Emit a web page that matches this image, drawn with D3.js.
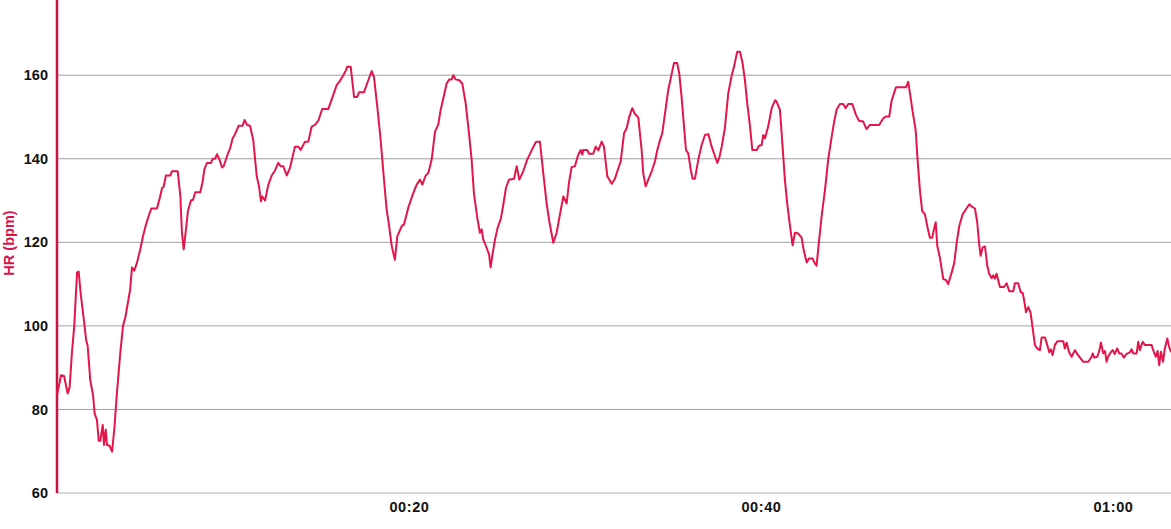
<!DOCTYPE html>
<html>
<head>
<meta charset="utf-8">
<script src="https://cdn.jsdelivr.net/npm/d3@7/dist/d3.min.js"></script>
<style>
  html, body { margin: 0; padding: 0; background: #ffffff; }
  svg { display: block; }
</style>
</head>
<body>
<svg id="chart" width="1171" height="529"></svg>
<script>
// Elapsed time in minutes
const timeMin = [
0.00,0.23,0.40,0.61,0.72,0.85,0.98,1.14,1.23,1.36,1.52,1.66,1.74,1.89,2.05,2.14,2.27,2.37,2.46,2.60,
2.67,2.77,2.84,2.99,3.13,3.26,3.41,3.60,3.75,3.88,4.03,4.16,4.26,4.39,4.55,4.73,4.89,5.06,5.21,5.36,
5.68,5.84,5.97,6.06,6.19,6.44,6.53,6.86,7.01,7.10,7.20,7.35,7.44,7.61,7.73,7.86,8.14,8.28,8.37,8.52,
8.75,8.85,8.99,9.09,9.22,9.38,9.47,9.66,9.85,9.98,10.13,10.32,10.55,10.66,10.80,10.97,11.15,11.35,11.48,11.59,
11.66,11.82,12.01,12.20,12.39,12.57,12.71,12.86,13.05,13.24,13.52,13.71,13.85,14.09,14.28,14.47,14.66,14.85,15.07,15.41,
15.66,15.89,16.04,16.27,16.42,16.49,16.69,16.88,17.06,17.16,17.44,17.69,17.88,18.01,18.20,18.39,18.58,18.73,18.86,19.02,
19.20,19.34,19.59,19.72,19.96,20.24,20.44,20.63,20.76,20.95,21.10,21.29,21.48,21.66,21.80,21.95,22.14,22.29,22.43,22.52,
22.65,22.86,23.03,23.22,23.41,23.56,23.69,23.88,24.03,24.13,24.22,24.41,24.55,24.64,24.73,24.89,25.04,25.21,25.36,25.51,
25.68,25.97,26.12,26.27,26.49,26.72,26.97,27.22,27.44,27.63,27.82,27.97,28.20,28.39,28.58,28.77,28.96,29.09,29.24,29.43,
29.59,29.76,29.85,29.90,30.13,30.23,30.47,30.61,30.76,30.95,31.08,31.27,31.52,31.70,31.84,32.03,32.22,32.37,32.52,32.69,
32.84,33.03,33.22,33.31,33.45,33.60,33.79,33.98,34.11,34.26,34.39,34.55,34.73,34.89,35.06,35.24,35.36,35.49,35.63,35.74,
35.87,36.01,36.12,36.25,36.44,36.63,36.82,37.01,37.20,37.39,37.52,37.63,37.77,37.95,38.14,38.34,38.47,38.65,38.81,38.96,
39.09,39.22,39.38,39.51,39.76,39.89,40.04,40.13,40.23,40.41,40.61,40.80,40.89,41.08,41.23,41.36,41.49,41.65,41.80,41.93,
42.12,42.31,42.44,42.60,42.73,42.94,43.03,43.16,43.31,43.45,43.64,43.82,44.02,44.16,44.30,44.49,44.68,44.81,44.96,45.19,
45.40,45.57,45.81,46.00,46.19,46.72,46.95,47.10,47.29,47.43,47.67,48.24,48.37,48.47,48.62,48.79,48.90,49.03,49.16,49.32,
49.47,49.60,49.73,49.83,49.93,50.02,50.17,50.36,50.51,50.64,50.84,50.99,51.12,51.27,51.46,51.65,51.84,51.97,52.16,52.29,
52.39,52.48,52.60,52.73,52.86,52.97,53.11,53.20,53.30,53.39,53.58,53.81,53.96,54.11,54.34,54.43,54.62,54.76,54.87,54.94,
55.06,55.19,55.32,55.44,55.57,55.70,55.85,55.95,56.14,56.27,56.38,56.48,56.57,56.70,56.84,57.18,57.27,57.37,57.50,57.65,
57.84,57.97,58.13,58.31,58.60,58.79,58.85,58.94,59.11,59.22,59.32,59.45,59.55,59.64,59.73,59.83,59.98,60.11,60.24,60.36,
60.49,60.62,60.78,60.97,61.06,61.16,61.35,61.44,61.53,61.69,61.82,62.20,62.33,62.44,62.54,62.63,62.73,62.85,62.95,63.09,
63.19,63.30
];
// Heart rate in bpm
const hrBpm = [
83.4,88.2,88.0,83.8,85.4,93.7,100.0,112.8,113.0,107.2,101.7,96.5,95.3,87.0,83.4,79.0,77.5,72.5,72.5,76.3,
71.5,75.2,71.5,71.3,69.9,75.5,84.2,93.7,100.0,102.0,105.6,108.8,114.0,113.2,115.2,118.3,121.5,124.3,126.3,128.1,
128.1,130.6,133.0,133.3,136.0,136.0,137.0,137.0,131.0,122.3,118.3,123.9,127.5,130.0,130.2,132.0,132.0,134.6,137.4,139.0,
139.0,140.0,140.0,141.1,139.9,137.9,138.2,140.6,142.7,144.9,146.0,147.9,147.9,149.3,148.1,147.9,144.5,135.8,133.4,129.8,
131.0,130.0,133.8,136.0,137.2,139.0,138.2,138.2,136.0,137.8,142.9,142.9,142.1,144.1,144.1,147.7,148.1,149.1,151.9,151.9,
154.8,157.6,158.4,160.0,161.2,162.0,162.0,154.8,154.8,155.9,155.9,158.8,161.0,159.6,152.5,144.5,135.0,127.9,124.3,119.1,
115.8,121.5,123.9,124.3,128.3,131.7,133.8,135.0,133.8,136.0,136.6,139.8,146.5,148.1,151.7,154.4,158.0,159.0,159.0,160.0,
159.0,158.8,158.0,153.3,146.1,139.8,131.8,125.9,122.3,123.1,120.7,118.7,117.1,114.0,116.7,120.7,123.5,125.5,129.0,133.0,
135.0,135.2,138.2,135.0,137.0,139.8,142.0,144.1,144.1,136.6,129.4,125.1,119.9,122.3,126.7,131.0,129.3,134.2,138.0,138.2,
140.6,142.1,141.0,142.1,142.1,141.2,141.2,142.9,142.0,144.1,142.9,135.8,134.0,135.2,137.0,139.4,146.1,147.3,150.1,152.1,
150.7,149.9,142.1,136.6,133.4,135.0,137.0,139.4,142.1,144.4,146.1,150.9,156.4,159.6,162.9,162.9,160.4,154.8,147.7,142.1,
141.3,137.4,135.2,135.2,139.8,143.3,145.7,145.9,142.9,140.6,139.0,140.2,142.9,147.3,155.6,160.0,162.0,165.6,165.6,162.8,
158.8,153.3,147.7,142.1,142.1,143.1,143.3,145.7,144.9,147.7,152.1,154.0,153.7,151.7,142.9,135.0,129.4,123.9,119.3,122.3,
122.1,121.1,117.9,115.2,116.1,116.1,115.2,114.4,120.7,126.3,132.6,139.8,145.3,148.9,151.8,153.1,153.1,152.1,153.1,153.1,
150.5,149.1,148.9,147.1,148.1,148.1,149.7,150.1,150.1,154.0,157.1,157.1,158.4,155.6,151.3,146.9,139.8,132.6,127.5,126.7,
123.5,121.1,121.1,123.1,124.8,119.1,116.3,111.2,111.0,110.0,112.8,115.2,119.9,123.9,126.7,127.9,129.1,128.6,128.1,124.8,
120.0,116.8,118.8,119.0,114.4,112.5,111.4,112.1,111.3,112.5,109.3,109.3,110.2,108.3,108.3,110.2,110.2,108.1,107.9,106.5,
103.3,104.5,103.2,99.4,95.4,94.6,94.2,97.2,97.2,95.4,93.7,94.4,93.0,95.4,96.3,96.3,94.6,96.0,93.8,92.6,
94.2,93.3,92.4,91.4,91.4,92.6,93.4,92.4,92.6,94.0,96.0,93.4,94.0,91.4,92.6,93.4,94.2,93.3,94.6,93.4,
93.4,92.4,93.3,93.7,94.4,93.4,93.4,96.2,94.2,96.2,95.4,95.4,93.7,92.6,94.0,90.6,93.8,91.4,94.6,97.0,
95.0,93.7
];
const yTicks = [60, 80, 100, 120, 140, 160];
const xTicks = [20, 40, 60];
const xTickLabels = ["00:20", "00:40", "01:00"];
const yTitle = "HR (bpm)";

const W = 1171, H = 529;
const margin = { left: 57, right: 0, top: 0, bottom: 36 };
const svg = d3.select("#chart");

const x = d3.scaleLinear().domain([0, 63.3]).range([margin.left, W - margin.right]);
const y = d3.scaleLinear().domain([60, 178]).range([H - margin.bottom, margin.top]);

const font = "'Liberation Sans', Arial, Helvetica, sans-serif";

// gridlines
svg.append("g")
  .selectAll("line")
  .data(yTicks.filter(d => d !== 60))
  .join("line")
  .attr("x1", margin.left).attr("x2", W)
  .attr("y1", d => y(d)).attr("y2", d => y(d))
  .attr("stroke", "#a0a0a0").attr("stroke-width", 1);

// bottom axis line
svg.append("line")
  .attr("x1", margin.left).attr("x2", W)
  .attr("y1", y(60)).attr("y2", y(60))
  .attr("stroke", "#a7afb7").attr("stroke-width", 1.2);

// y tick labels
const yAxis = d3.axisLeft(y).tickValues(yTicks).tickSize(0).tickPadding(9);
const gy = svg.append("g").attr("transform", `translate(${margin.left},0)`).call(yAxis);
gy.select(".domain").remove();
gy.selectAll("text")
  .attr("font-family", font).attr("font-weight", "bold").attr("font-size", 14.5)
  .attr("fill", "#111");

// x tick labels
const xAxis = d3.axisBottom(x).tickValues(xTicks).tickSize(0).tickPadding(9)
  .tickFormat((d, i) => xTickLabels[i]);
const gx = svg.append("g").attr("transform", `translate(0,${y(60)})`).call(xAxis);
gx.select(".domain").remove();
gx.selectAll("text")
  .attr("font-family", font).attr("font-weight", "bold").attr("font-size", 14.5)
  .attr("letter-spacing", 0.6)
  .attr("fill", "#111");

// y axis line (crimson)
svg.append("line")
  .attr("x1", margin.left).attr("x2", margin.left)
  .attr("y1", 0).attr("y2", y(60))
  .attr("stroke", "#cc1242").attr("stroke-width", 2.5);

// y title
svg.append("text")
  .attr("transform", `translate(14,${243}) rotate(-90)`)
  .attr("text-anchor", "middle")
  .attr("font-family", font).attr("font-weight", "bold").attr("font-size", 14.5)
  .attr("fill", "#d9124a")
  .text(yTitle);

// line
const data = timeMin.map((t, i) => [t, hrBpm[i]]);
const line = d3.line().x(d => x(d[0])).y(d => y(d[1]));
svg.append("path")
  .datum(data)
  .attr("d", line)
  .attr("fill", "none")
  .attr("stroke", "#e3154a")
  .attr("stroke-width", 2)
  .attr("stroke-linejoin", "round");
</script>
</body>
</html>
